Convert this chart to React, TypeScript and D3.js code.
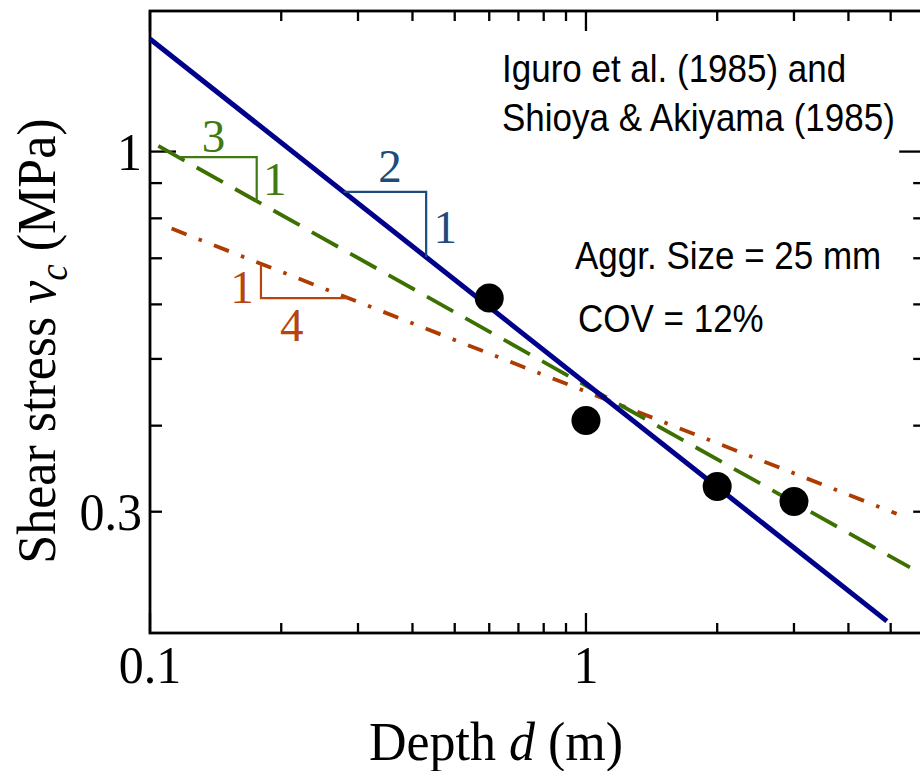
import React from "react";
import * as d3 from "d3";

// ---- data ----
const pointDepths = [0.6, 1, 2, 3];
const pointStress = [0.613, 0.407, 0.3265, 0.3105];

// slope -1/2 (solid)
const blueDepths = [0.1, 4.9];
const blueStress = [1.457, 0.2081];
// slope ~ -1/3 (dashed)
const greenDepths = [0.1045, 5.535];
const greenStress = [1.019, 0.249];
// slope -1/4 (dash-dot)
const orangeDepths = [0.1121, 5.16];
const orangeStress = [0.773, 0.298];

// slope triangles (depth range along each line)
const blueTri = [0.278, 0.43];
const greenTri = [0.116, 0.1757];
const orangeTri = [0.1797, 0.285];

const xMajor = [0.1, 1];
const xMinor = [0.2, 0.3, 0.4, 0.5, 0.6, 0.7, 0.8, 0.9, 2, 3, 4, 5];
const xLabels = ["0.1", "1"];
const yMajor = [1];
const yMinor = [0.3, 0.4, 0.5, 0.6, 0.7, 0.8, 0.9];
const yLabelTicks = [1, 0.3];
const yLabels = ["1", "0.3"];

const W = 920;
const H = 771;
const L = 150, R = 925.2, T = 11, B = 633;

const C_BLUE = "#00008b";
const C_GREEN = "#3c7000";
const C_ORANGE = "#ad3c00";
const C_BLUE_T = "#1c4b7c";
const C_GREEN_T = "#3f7a12";
const C_ORANGE_T = "#b4460e";

const SERIF = "'Liberation Serif', 'Times New Roman', serif";
const SANS = "'Liberation Sans', Arial, sans-serif";

export default function App() {
  const x = d3.scaleLog().domain([0.1, 6]).range([L, R]);
  const y = d3.scaleLog().domain([0.2, 1.6]).range([B, T]);

  const line = d3
    .line<[number, number]>()
    .x((p) => x(p[0]))
    .y((p) => y(p[1]));

  const pts = (ds: number[], vs: number[]) => ds.map((d, i) => [d, vs[i]] as [number, number]);

  const interp = (ds: number[], vs: number[]) => (d: number) => {
    const t = (Math.log(d) - Math.log(ds[0])) / (Math.log(ds[1]) - Math.log(ds[0]));
    return Math.exp(Math.log(vs[0]) + t * (Math.log(vs[1]) - Math.log(vs[0])));
  };

  const fb = interp(blueDepths, blueStress);
  const fg = interp(greenDepths, greenStress);
  const fo = interp(orangeDepths, orangeStress);

  const bx0 = x(blueTri[0]), bx1 = x(blueTri[1]);
  const by0 = y(fb(blueTri[0])), by1 = y(fb(blueTri[1]));
  const gx0 = x(greenTri[0]), gx1 = x(greenTri[1]);
  const gy0 = y(fg(greenTri[0])), gy1 = y(fg(greenTri[1]));
  const ox0 = x(orangeTri[0]), ox1 = x(orangeTri[1]);
  const oy0 = y(fo(orangeTri[0])), oy1 = y(fo(orangeTri[1]));

  const tick = (k: string, x1: number, y1: number, x2: number, y2: number) => (
    <line key={k} x1={x1} y1={y1} x2={x2} y2={y2} stroke="#000" strokeWidth={2.3} />
  );

  const sansText = (s: string, tx: number, ty: number) => (
    <text
      transform={`translate(${tx},${ty}) scale(1,1.12)`}
      fontFamily={SANS}
      fontSize={35}
      fill="#000"
    >
      {s}
    </text>
  );

  return (
    <div>
      <style>{`body{margin:0}`}</style>
      <svg width={W} height={H} style={{ display: "block" }}>
        <rect x={0} y={0} width={W} height={H} fill="#fff" />
        {/* ticks */}
        {xMajor.map((d, i) => (
          <g key={"xm" + i}>
            {tick("b", x(d), B, x(d), B - 20)}
            {tick("t", x(d), T, x(d), T + 20)}
          </g>
        ))}
        {xMinor.map((d, i) => (
          <g key={"xn" + i}>
            {tick("b", x(d), B, x(d), B - 10)}
            {tick("t", x(d), T, x(d), T + 10)}
          </g>
        ))}
        {yMajor.map((v, i) => (
          <g key={"ym" + i}>
            {tick("l", L, y(v), L + 26, y(v))}
            {tick("r", R, y(v), R - 26, y(v))}
          </g>
        ))}
        {yMinor.map((v, i) => (
          <g key={"yn" + i}>
            {tick("l", L, y(v), L + 12, y(v))}
            {tick("r", R, y(v), R - 12, y(v))}
          </g>
        ))}
        {/* frame */}
        <rect x={L} y={T} width={R - L} height={B - T} fill="none" stroke="#000" strokeWidth={2.8} />

        {/* lines */}
        <path d={line(pts(orangeDepths, orangeStress)) || ""} fill="none" stroke={C_ORANGE} strokeWidth={3.8} strokeDasharray="16,13,3.5,13" />
        <path d={line(pts(greenDepths, greenStress)) || ""} fill="none" stroke={C_GREEN} strokeWidth={3.8} strokeDasharray="30,14" />
        <path d={line(pts(blueDepths, blueStress)) || ""} fill="none" stroke={C_BLUE} strokeWidth={5} />

        {/* slope triangles */}
        <polyline points={`${bx0},${by0} ${bx1},${by0} ${bx1},${by1}`} fill="none" stroke={C_BLUE_T} strokeWidth={2.2} />
        <text x={(bx0 + bx1) / 2 + 5} y={by0 - 10} fontFamily={SERIF} fontSize={47} fill={C_BLUE_T} textAnchor="middle">2</text>
        <text x={bx1 + 19} y={(by0 + by1) / 2 + 18} fontFamily={SERIF} fontSize={47} fill={C_BLUE_T} textAnchor="middle">1</text>

        <polyline points={`${gx0},${gy0} ${gx1},${gy0} ${gx1},${gy1}`} fill="none" stroke={C_GREEN_T} strokeWidth={2.2} />
        <text x={(gx0 + gx1) / 2 - 4} y={gy0 - 5} fontFamily={SERIF} fontSize={47} fill={C_GREEN_T} textAnchor="middle">3</text>
        <text x={gx1 + 18} y={(gy0 + gy1) / 2 + 16} fontFamily={SERIF} fontSize={47} fill={C_GREEN_T} textAnchor="middle">1</text>

        <polyline points={`${ox0},${oy0} ${ox0},${oy1} ${ox1},${oy1}`} fill="none" stroke={C_ORANGE_T} strokeWidth={2.2} />
        <text x={ox0 - 19} y={(oy0 + oy1) / 2 + 22} fontFamily={SERIF} fontSize={47} fill={C_ORANGE_T} textAnchor="middle">1</text>
        <text x={(ox0 + ox1) / 2 - 13} y={oy1 + 43} fontFamily={SERIF} fontSize={47} fill={C_ORANGE_T} textAnchor="middle">4</text>

        {/* points */}
        {pointDepths.map((d, i) => (
          <circle key={"p" + i} cx={x(d)} cy={y(pointStress[i])} r={14.5} fill="#000" />
        ))}

        {/* tick labels */}
        {xMajor.map((d, i) => (
          <text key={"xl" + i} transform={`translate(${x(d)},683) scale(1,1.06)`} fontFamily={SERIF} fontSize={50} textAnchor="middle" fill="#000">
            {xLabels[i]}
          </text>
        ))}
        {yLabelTicks.map((v, i) => (
          <text key={"yl" + i} transform={`translate(142,${y(v) + 18}) scale(1,1.06)`} fontFamily={SERIF} fontSize={50} textAnchor="end" fill="#000">
            {yLabels[i]}
          </text>
        ))}

        {/* axis titles */}
        <text transform="translate(496,760) scale(1,1.06)" fontFamily={SERIF} fontSize={52} textAnchor="middle" fill="#000">
          Depth <tspan fontStyle="italic">d</tspan> (m)
        </text>
        <text transform="translate(55,341) rotate(-90) scale(1,1.06)" fontFamily={SERIF} fontSize={52} textAnchor="middle" fill="#000">
          Shear stress <tspan fontStyle="italic">v</tspan>
          <tspan fontStyle="italic" fontSize={37} dy={11}>c</tspan>
          <tspan dy={-11}> (MPa)</tspan>
        </text>

        {/* annotations */}
        {sansText("Iguro et al. (1985) and", 502, 82)}
        {sansText("Shioya & Akiyama (1985)", 502, 131)}
        {sansText("Aggr. Size = 25 mm", 575, 269)}
        {sansText("COV = 12%", 578, 332)}
      </svg>
    </div>
  );
}
